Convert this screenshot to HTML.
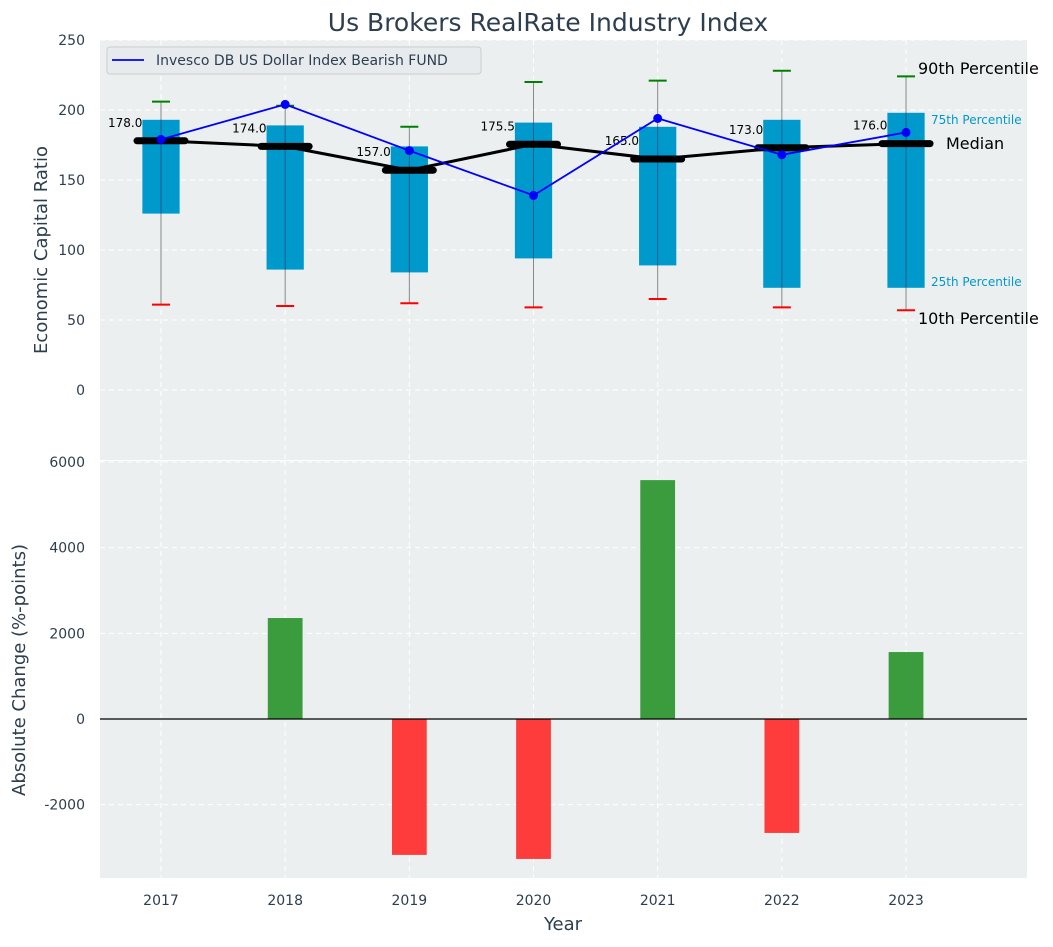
<!DOCTYPE html>
<html><head><meta charset="utf-8"><style>
body{margin:0;background:#fff;font-family:"Liberation Sans","DejaVu Sans",sans-serif}
svg text{font-family:"DejaVu Sans","Liberation Sans",sans-serif}
</style></head><body>
<svg id="chart" width="1053" height="942" xmlns="http://www.w3.org/2000/svg"></svg>
<script>
const years=[2017,2018,2019,2020,2021,2022,2023];
const p10=[61,60,62,59,65,59,57];
const q1=[126,86,84,94,89,73,73];
const med=[178,174,157,175.5,165,173,176];
const q3=[193,189,174,191,188,193,198];
const p90=[206,203,188,220,221,228,224];
const fund=[179,204,171,139,194,168,184];
const change=[0,2357,-3173,-3267,5577,-2660,1563];
const topTicks=[0,50,100,150,200,250];
const botTicks=[-2000,0,2000,4000,6000];

const NS="http://www.w3.org/2000/svg";
const svg=document.getElementById('chart');
function mk(t,a,p){const e=document.createElementNS(NS,t);for(const k in a)e.setAttribute(k,a[k]);(p||svg).appendChild(e);return e;}
const L=100,R=1027;
const x=v=>161+(v-2017)*124.17;
const yT=v=>390-v*1.4;
const yB=v=>719-v*(257/6000);

let e=mk('rect',{x:L,y:40,width:R-L,height:420,fill:'#ebeff0'});

e=mk('rect',{x:L,y:461,width:R-L,height:417,fill:'#ebeff0'});


years.forEach(yr=>{
 mk('line',{x1:x(yr),x2:x(yr),y1:40,y2:460,stroke:'#fff','stroke-dasharray':'5,4'});
 mk('line',{x1:x(yr),x2:x(yr),y1:461,y2:878,stroke:'#fff','stroke-dasharray':'5,4'});
 const t=mk('text',{x:x(yr),y:905,'text-anchor':'middle','font-size':14,fill:'#2d3e50'});t.textContent=yr;
 
});
topTicks.forEach(v=>{
 mk('line',{x1:L,x2:R,y1:yT(v),y2:yT(v),stroke:'#fff','stroke-dasharray':'5,4'});
 const t=mk('text',{x:85,y:yT(v)+5,'text-anchor':'end','font-size':14,fill:'#2d3e50'});t.textContent=v;
 
});
botTicks.forEach(v=>{
 mk('line',{x1:L,x2:R,y1:yB(v),y2:yB(v),stroke:'#fff','stroke-dasharray':'5,4'});
 const t=mk('text',{x:85,y:yB(v)+5,'text-anchor':'end','font-size':14,fill:'#2d3e50'});t.textContent=v;
 
});

const dx=x(2017.15)-x(2017);
years.forEach((yr,i)=>{
 const cx=x(yr);
 mk('line',{x1:cx,x2:cx,y1:yT(p10[i]),y2:yT(p90[i]),stroke:'#888','stroke-width':1});
 const b=mk('rect',{x:cx-dx,y:yT(q3[i]),width:2*dx,height:yT(q1[i])-yT(q3[i]),fill:'#0099cc'});
 
 mk('line',{x1:cx,x2:cx,y1:yT(q1[i]),y2:yT(q3[i]),stroke:'#336',"stroke-opacity":0.6,'stroke-width':1});
 let c=mk('line',{x1:cx-9,x2:cx+9,y1:yT(p90[i]),y2:yT(p90[i]),stroke:'green','stroke-width':2});
 
 c=mk('line',{x1:cx-9,x2:cx+9,y1:yT(p10[i]),y2:yT(p10[i]),stroke:'red','stroke-width':2});
 
 const t=mk('text',{x:cx-dx,y:yT(med[i])-14,'text-anchor':'end','font-size':12,fill:'#000'});t.textContent=med[i].toFixed(1);
 
});
let pts=years.map((yr,i)=>x(yr)+','+yT(med[i])).join(' ');
e=mk('polyline',{points:pts,fill:'none',stroke:'#000','stroke-width':3});

years.forEach((yr,i)=>{
 const m=mk('line',{x1:x(yr)-24,x2:x(yr)+24,y1:yT(med[i]),y2:yT(med[i]),stroke:'#000','stroke-width':7,'stroke-linecap':'round'});
 
});
pts=years.map((yr,i)=>x(yr)+','+yT(fund[i])).join(' ');
e=mk('polyline',{points:pts,fill:'none',stroke:'#0000ff','stroke-width':1.8});

years.forEach((yr,i)=>{
 const c=mk('circle',{cx:x(yr),cy:yT(fund[i]),r:4.5,fill:'#0000ff'});
 
});

const ann=[[918,74,'90th Percentile',16,'#000'],[931,124,'75th Percentile',12,'#0099cc'],[946,149,'Median',16,'#000'],[931,286,'25th Percentile',12,'#0099cc'],[918,324,'10th Percentile',16,'#000']];
ann.forEach(a=>{const t=mk('text',{x:a[0],y:a[1],'font-size':a[3],fill:a[4]});t.textContent=a[2];
 });

const lg=mk('g',{});
mk('rect',{x:107,y:47,width:374,height:27,rx:3,fill:'#e8ebee',stroke:'#ccc'},lg);
mk('line',{x1:112,x2:144,y1:60,y2:60,stroke:'#0000ff','stroke-width':1.8},lg);
let t=mk('text',{x:156,y:65,'font-size':14,fill:'#2d3e50'},lg);t.textContent='Invesco DB US Dollar Index Bearish FUND';

const bw=x(2017.14)-x(2017);
years.forEach((yr,i)=>{
 const v=change[i];
 const r=mk('rect',{x:x(yr)-bw,y:Math.min(yB(v),yB(0)),width:2*bw,height:Math.abs(yB(v)-yB(0)),fill:v>=0?'#3a9c3c':'#ff3c3c'});
 
});
e=mk('line',{x1:L,x2:R,y1:yB(0),y2:yB(0),stroke:'#000','stroke-width':1.2});


t=mk('text',{x:548,y:31,'text-anchor':'middle','font-size':25,fill:'#2d3e50'});t.textContent='Us Brokers RealRate Industry Index';

t=mk('text',{x:0,y:0,'text-anchor':'middle','font-size':18,fill:'#2d3e50',transform:'translate(47,250) rotate(-90)'});t.textContent='Economic Capital Ratio';

t=mk('text',{x:0,y:0,'text-anchor':'middle','font-size':18,fill:'#2d3e50',transform:'translate(25,670) rotate(-90)'});t.textContent='Absolute Change (%-points)';

t=mk('text',{x:563,y:930,'text-anchor':'middle','font-size':18,fill:'#2d3e50'});t.textContent='Year';

</script>
</body></html>
